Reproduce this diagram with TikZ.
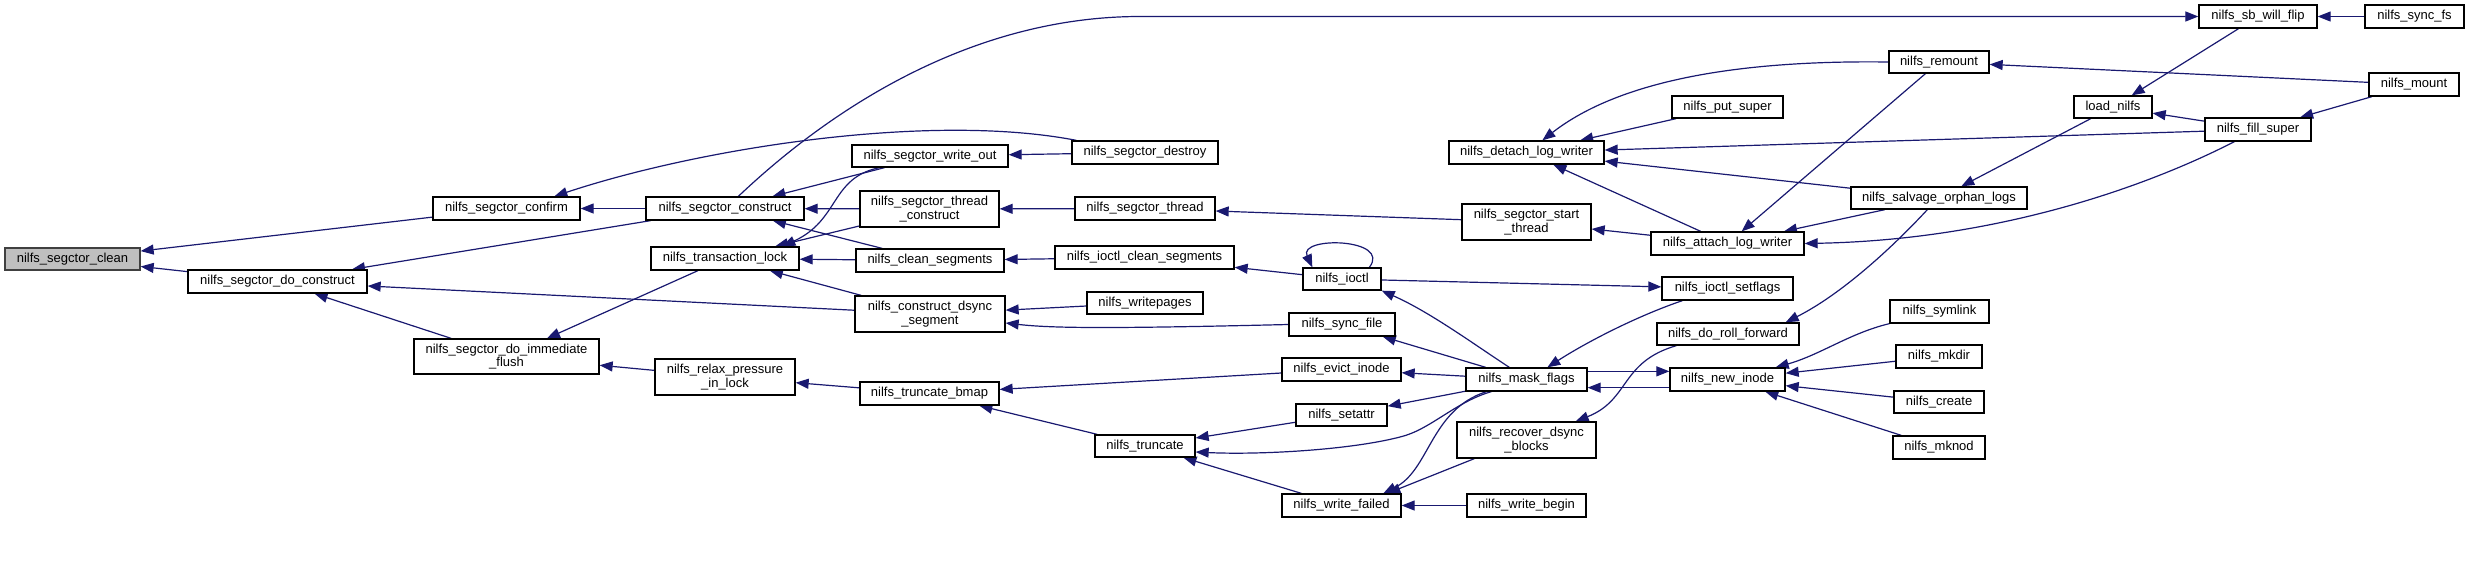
\documentclass[tikz,border=0pt]{standalone}
\usepackage{fontspec}
\setmainfont{Liberation Sans}
\usetikzlibrary{arrows.meta,calc}
\definecolor{navyc}{RGB}{25,25,112}
\definecolor{grayfill}{RGB}{191,191,191}
\pgfdeclarelayer{background}
\pgfsetlayers{background,main}
\newcommand{\fnbox}[7][]{\node[box,#1,minimum width={(#5-#3)*0.5pt},minimum height={(#6-#4)*0.5pt}] (#2) at ({(#3+#5)/2},{(#4+#6)/2}) {#7};}
\tikzset{
 box/.style={draw=black, line width=0.65pt, fill=white, inner sep=0pt, align=center, font={\fontsize{6.5pt}{6.8pt}\selectfont}},
 hl/.style={fill=grayfill, draw=black!75},
 cedge/.style={draw=navyc, line width=0.6pt, -{Triangle[length=6.5pt,width=5pt]}},
}
\begin{document}
\begin{tikzpicture}[x=0.5pt,y=-0.5pt]
\useasboundingbox (0,0) rectangle (2469,584);
\fnbox[hl]{clean}{5}{248}{140}{270}{nilfs\_segctor\_clean}
\fnbox{doconstruct}{188}{270}{367}{293}{nilfs\_segctor\_do\_construct}
\fnbox{confirm}{433}{197}{580}{220}{nilfs\_segctor\_confirm}
\fnbox{construct}{646}{197}{804}{220}{nilfs\_segctor\_construct}
\fnbox{translock}{651}{247}{799}{270}{nilfs\_transaction\_lock}
\fnbox{immflush}{414}{339}{599}{374}{nilfs\_segctor\_do\_immediate\\\_flush}
\fnbox{relax}{655}{359}{795}{395}{nilfs\_relax\_pressure\\\_in\_lock}
\fnbox{writeout}{852}{145}{1008}{167}{nilfs\_segctor\_write\_out}
\fnbox{destroy}{1072}{141}{1218}{164}{nilfs\_segctor\_destroy}
\fnbox{threadcons}{860}{191}{999}{227}{nilfs\_segctor\_thread\\\_construct}
\fnbox{segthread}{1075}{197}{1215}{220}{nilfs\_segctor\_thread}
\fnbox{cleanseg}{856}{249}{1004}{272}{nilfs\_clean\_segments}
\fnbox{ioctlclean}{1055}{246}{1234}{269}{nilfs\_ioctl\_clean\_segments}
\fnbox{dsync}{855}{296}{1005}{332}{nilfs\_construct\_dsync\\\_segment}
\fnbox{writepages}{1087}{292}{1203}{314}{nilfs\_writepages}
\fnbox{truncbmap}{860}{382}{999}{405}{nilfs\_truncate\_bmap}
\fnbox{truncate}{1095}{435}{1195}{457}{nilfs\_truncate}
\fnbox{detach}{1449}{141}{1604}{164}{nilfs\_detach\_log\_writer}
\fnbox{startthread}{1462}{204}{1591}{240}{nilfs\_segctor\_start\\\_thread}
\fnbox{ioctl}{1303}{268}{1381}{290}{nilfs\_ioctl}
\fnbox{syncfile}{1289}{313}{1395}{336}{nilfs\_sync\_file}
\fnbox{evict}{1282}{358}{1401}{381}{nilfs\_evict\_inode}
\fnbox{maskflags}{1466}{368}{1587}{391}{nilfs\_mask\_flags}
\fnbox{setattr}{1296}{404}{1387}{426}{nilfs\_setattr}
\fnbox{recover}{1457}{422}{1596}{458}{nilfs\_recover\_dsync\\\_blocks}
\fnbox{writefailed}{1282}{494}{1401}{517}{nilfs\_write\_failed}
\fnbox{writebegin}{1467}{494}{1586}{517}{nilfs\_write\_begin}
\fnbox{remount}{1889}{51}{1989}{73}{nilfs\_remount}
\fnbox{putsuper}{1672}{96}{1783}{118}{nilfs\_put\_super}
\fnbox{salvage}{1851}{187}{2027}{209}{nilfs\_salvage\_orphan\_logs}
\fnbox{attach}{1651}{232}{1804}{255}{nilfs\_attach\_log\_writer}
\fnbox{setflags}{1662}{277}{1793}{300}{nilfs\_ioctl\_setflags}
\fnbox{rollfwd}{1657}{323}{1799}{345}{nilfs\_do\_roll\_forward}
\fnbox{symlink}{1890}{300}{1989}{323}{nilfs\_symlink}
\fnbox{mkdir}{1896}{345}{1982}{368}{nilfs\_mkdir}
\fnbox{newinode}{1670}{368}{1785}{391}{nilfs\_new\_inode}
\fnbox{create}{1894}{391}{1984}{413}{nilfs\_create}
\fnbox{mknod}{1893}{436}{1985}{459}{nilfs\_mknod}
\fnbox{sbflip}{2199}{5}{2317}{28}{nilfs\_sb\_will\_flip}
\fnbox{syncfs}{2365}{5}{2464}{28}{nilfs\_sync\_fs}
\fnbox{mount}{2369}{73}{2459}{96}{nilfs\_mount}
\fnbox{loadnilfs}{2074}{96}{2152}{118}{load\_nilfs}
\fnbox{fillsuper}{2205}{118}{2311}{141}{nilfs\_fill\_super}
\begin{pgfonlayer}{background}
% straight connectors
\draw[cedge] (doconstruct) -- (clean);
\draw[cedge] (confirm) -- (clean);
\draw[cedge] (construct) -- (doconstruct);
\draw[cedge] (dsync) -- (doconstruct);
\draw[cedge] (immflush) -- (doconstruct);
\draw[cedge] (construct) -- (confirm);
\draw[cedge] (writeout) -- (construct);
\draw[cedge] (threadcons) -- (construct);
\draw[cedge] (cleanseg) -- (construct);
\draw[cedge] (destroy) -- (writeout);
\draw[cedge] (threadcons) -- (translock);
\draw[cedge] (cleanseg) -- (translock);
\draw[cedge] (dsync) -- (translock);
\draw[cedge] (translock) -- (immflush);
\draw[cedge] (relax) -- (immflush);
\draw[cedge] (truncbmap) -- (relax);
\draw[cedge] (segthread) -- (threadcons);
\draw[cedge] (startthread) -- (segthread);
\draw[cedge] (ioctlclean) -- (cleanseg);
\draw[cedge] (ioctl) -- (ioctlclean);
\draw[cedge] (writepages) -- (dsync);
\draw[cedge] (maskflags) -- (syncfile);
\draw[cedge] (maskflags) -- (evict);
\draw[cedge] (maskflags) -- (setattr);
\draw[cedge] (writebegin) -- (writefailed);
\draw[cedge] (evict) -- (truncbmap);
\draw[cedge] (truncate) -- (truncbmap);
\draw[cedge] (setattr) -- (truncate);
\draw[cedge] (writefailed) -- (truncate);
\draw[cedge] (ioctl) -- (setflags);
\draw[cedge] (putsuper) -- (detach);
\draw[cedge] (fillsuper) -- (detach);
\draw[cedge] (salvage) -- (detach);
\draw[cedge] (attach) -- (detach);
\draw[cedge] (attach) -- (startthread);
\draw[cedge] (remount) -- (attach);
\draw[cedge] (salvage) -- (attach);
\draw[cedge] (loadnilfs) -- (salvage);
\draw[cedge] (mount) -- (remount);
\draw[cedge] (sbflip) -- (loadnilfs);
\draw[cedge] (fillsuper) -- (loadnilfs);
\draw[cedge] (mount) -- (fillsuper);
\draw[cedge] (syncfs) -- (sbflip);
\draw[cedge] (mkdir) -- (newinode);
\draw[cedge] (create) -- (newinode);
\draw[cedge] (mknod) -- (newinode);
% shaped connectors
\draw[cedge] ($(destroy.north west)+(5,0)$) .. controls (930,112) and (700,148) .. ($(confirm.north west)+(122,0)$);
\draw[cedge] ($(construct.north west)+(93,0)$) .. controls (840,100) and (980,16.5) .. (1140,16.5) -- (sbflip.west);
\draw[cedge] ($(writeout.south west)+(28,0)$) .. controls (830,178) and (840,220) .. ($(translock.north west)+(132,0)$);
\draw[cedge] ($(ioctl.north west)+(67,0)$) .. controls (1392,238) and (1298,236) .. ($(ioctl.north west)+(10,0)$);
\draw[cedge] ($(maskflags.north west)+(44,0)$) .. controls (1475,345) and (1430,312) .. (ioctl.south east);
\draw[cedge] ($(maskflags.south west)+(26,0)$) .. controls (1455,402) and (1430,430) .. (1400,437) .. controls (1350,450) and (1260,455) .. ($(truncate.east)+(0,6)$);
\draw[cedge] ($(maskflags.south west)+(21,0)$) .. controls (1430,410) and (1430,470) .. ($(writefailed.north west)+(102,0)$);
\draw[cedge] ($(recover.south west)+(18,0)$) -- ($(writefailed.north west)+(106,0)$);
\draw[cedge] ($(setflags.south west)+(21,0)$) .. controls (1640,315) and (1590,340) .. ($(maskflags.north west)+(82,0)$);
\draw[cedge] ($(maskflags.north east)+(0,4)$) -- ($(newinode.north west)+(0,4)$);
\draw[cedge] ($(newinode.south west)+(0,-4)$) -- ($(maskflags.south east)+(0,-4)$);
\draw[cedge] ($(rollfwd.south west)+(20,0)$) .. controls (1620,362) and (1630,400) .. ($(recover.north east)+(-21,0)$);
\draw[cedge] ($(salvage.south west)+(77,0)$) .. controls (1890,250) and (1840,295) .. ($(rollfwd.north east)+(-14,0)$);
\draw[cedge] (remount.west) .. controls (1740,60) and (1620,80) .. ($(detach.north west)+(94,0)$);
\draw[cedge] ($(fillsuper.south west)+(30,0)$) .. controls (2150,185) and (2000,240) .. (attach.east);
\draw[cedge] (symlink.south west) .. controls (1850,333) and (1820,355) .. ($(newinode.north east)+(-10,0)$);
\draw[cedge] (syncfile.west) .. controls (1100,329) and (1050,328) .. ($(dsync.east)+(0,9)$);
\end{pgfonlayer}
\end{tikzpicture}
\end{document}
